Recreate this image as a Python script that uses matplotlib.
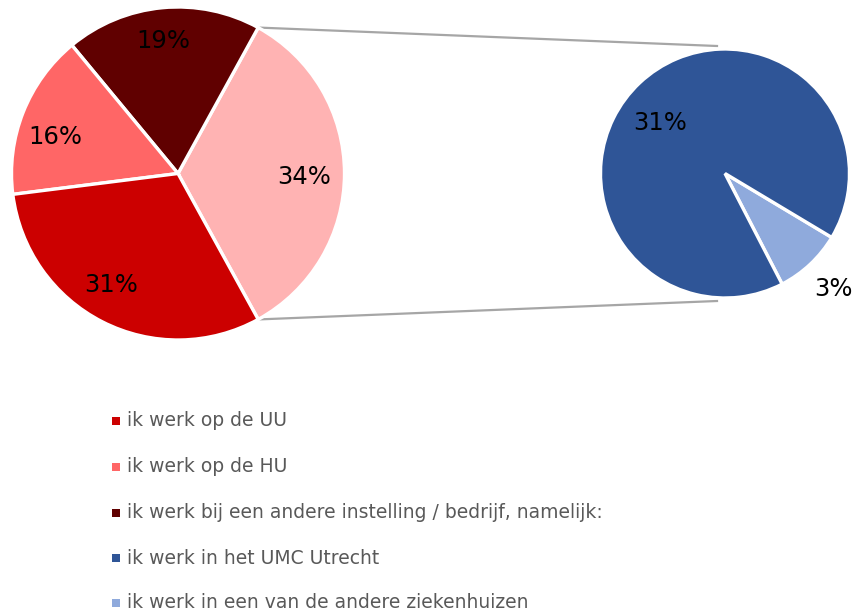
import matplotlib
matplotlib.use("Agg")
import matplotlib.pyplot as plt
import numpy as np
from matplotlib.patches import Rectangle

# ---- data ----
categories = [
    "ik werk op de UU",
    "ik werk op de HU",
    "ik werk bij een andere instelling / bedrijf, namelijk:",
    "ik werk in het UMC Utrecht",
    "ik werk in een van de andere ziekenhuizen",
]
values = [31, 16, 19, 31, 3]
colors = ["#CC0000", "#FF6666", "#600000", "#2F5597", "#8FAADC"]
other_color = "#FFB3B3"

W, H = 859, 614
fig = plt.figure(figsize=(W / 100, H / 100), dpi=100)
ax = fig.add_axes([0, 0, 1, 1])

# main pie: combined "other" slice + first three categories
other_val = values[3] + values[4]
main_vals = [other_val, values[2], values[1], values[0]]
main_cols = [other_color, colors[2], colors[1], colors[0]]
main_total = sum(main_vals)
c1 = (178, H - 173.5)
r1 = 166.5
start1 = -other_val / main_total * 180
wedges1, _ = ax.pie(main_vals, colors=main_cols, startangle=start1, counterclock=True,
                    center=c1, radius=r1, frame=True,
                    wedgeprops=dict(edgecolor="white", linewidth=2.4))
label_shift1 = [-1.5, 1.0, 5.0, -4.0]
label_dist1 = [0.76, 0.80, 0.77, 0.78]
for w, v, sh, dd in zip(wedges1, main_vals, label_shift1, label_dist1):
    mid = np.deg2rad((w.theta1 + w.theta2) / 2 + sh)
    d = dd * r1
    ax.text(c1[0] + d * np.cos(mid), c1[1] + d * np.sin(mid), f"{v}%",
            ha="center", va="center", fontsize=17.5, color="black")

# secondary pie
sec_vals = [values[4], values[3]]
sec_cols = [colors[4], colors[3]]
c2 = (725, H - 173.5)
r2 = 124.5
start2 = -46.8 - sec_vals[0] / sum(sec_vals) * 180
wedges2, _ = ax.pie(sec_vals, colors=sec_cols, startangle=start2, counterclock=True,
                    center=c2, radius=r2, frame=True,
                    wedgeprops=dict(edgecolor="white", linewidth=2.4))
dists = [1.27, 0.66]
shifts = [0.0, 9.0]
for w, v, dd, sh in zip(wedges2, sec_vals, dists, shifts):
    mid = np.deg2rad((w.theta1 + w.theta2) / 2 + sh)
    d = dd * r2
    ax.text(c2[0] + d * np.cos(mid), c2[1] + d * np.sin(mid), f"{v}%",
            ha="center", va="center", fontsize=17.5, color="black")

# connector lines from edges of the "other" slice to top/bottom of secondary pie
ow = wedges1[0]
for ang, ty in [(ow.theta2, c2[1] + r2 + 3), (ow.theta1, c2[1] - r2 - 3)]:
    a = np.deg2rad(ang)
    x0 = c1[0] + r1 * np.cos(a)
    y0 = c1[1] + r1 * np.sin(a)
    ax.plot([x0 + 1, c2[0] - 8], [y0, ty], color="#A6A6A6", lw=1.6, zorder=0)

# legend
leg_y = [421, 467, 513, 558, 603]
for cat, col, y in zip(categories, colors, leg_y):
    ax.add_patch(Rectangle((112, H - y - 4), 8, 8, facecolor=col, edgecolor="none"))
    ax.text(127, H - y, cat, ha="left", va="center", fontsize=13.5, color="#595959")

ax.set_xlim(0, W)
ax.set_ylim(0, H)
ax.set_aspect("equal")
ax.axis("off")
fig.savefig("out.png", dpi=100, facecolor="white")
